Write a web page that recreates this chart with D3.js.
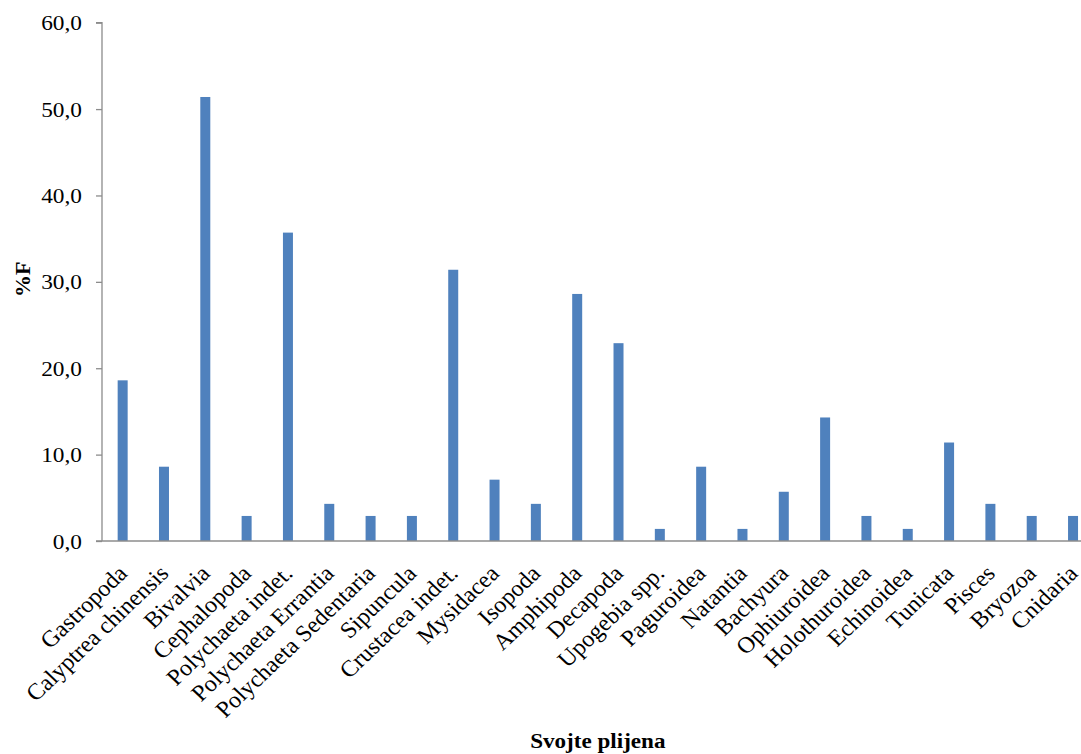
<!DOCTYPE html>
<html><head><meta charset="utf-8">
<script src="https://cdn.jsdelivr.net/npm/d3@7"></script>
<style>
html,body{margin:0;padding:0;background:#fff;}
svg{display:block;}
</style></head><body>
<svg id="chart" width="1081" height="754"></svg>
<script>
const categories = ["Gastropoda","Calyptrea chinensis","Bivalvia","Cephalopoda","Polychaeta indet.","Polychaeta Errantia","Polychaeta Sedentaria","Sipuncula","Crustacea indet.","Mysidacea","Isopoda","Amphipoda","Decapoda","Upogebia spp.","Paguroidea","Natantia","Bachyura","Ophiuroidea","Holothuroidea","Echinoidea","Tunicata","Pisces","Bryozoa","Cnidaria"];
const values = [18.6, 8.6, 51.4, 2.9, 35.7, 4.3, 2.9, 2.9, 31.4, 7.1, 4.3, 28.6, 22.9, 1.4, 8.6, 1.4, 5.7, 14.3, 2.9, 1.4, 11.4, 4.3, 2.9, 2.9];
const yTicks = [0, 10, 20, 30, 40, 50, 60];
const yTitle = "%F";
const xTitle = "Svojte plijena";

(function () {
const svg = d3.select("#chart");
const mLeft = 102, mRight = 1093.7, mTop = 22.7, mBottom = 541;
const font = "'Liberation Serif','Times New Roman',serif";
const axisColor = "#8c8c8c";
const sx = 1.06;

const x = d3.scaleBand().domain(categories).range([mLeft, mRight]).paddingInner(0).paddingOuter(0);
const y = d3.scaleLinear().domain([0, 60]).range([mBottom, mTop]);
const barW = 10;

// bars
svg.append("g").selectAll("rect").data(values).join("rect")
  .attr("x", (d, i) => x(categories[i]) + x.bandwidth() / 2 - barW / 2)
  .attr("y", d => y(d))
  .attr("width", barW)
  .attr("height", d => y(0) - y(d))
  .attr("fill", "#4F81BD");

// y axis
const yAxis = d3.axisLeft(y).tickValues(yTicks).tickSize(6).tickPadding(14)
  .tickFormat(d => d3.format(".1f")(d).replace(".", ","));
const gy = svg.append("g").attr("transform", `translate(${mLeft},0)`).call(yAxis);
gy.select(".domain").attr("stroke", axisColor).attr("stroke-width", 1.3).attr("d", `M-6,${mTop}H0V${mBottom}`);
gy.selectAll(".tick line").attr("stroke", axisColor).attr("stroke-width", 1.3);
gy.selectAll(".tick text").attr("font-family", font).attr("font-size", 22).attr("fill", "#000")
  .attr("x", -20 / sx).attr("transform", `scale(${sx},1)`);

// x axis
const xAxis = d3.axisBottom(x).tickSize(0).tickFormat("");
const gx = svg.append("g").attr("transform", `translate(0,${mBottom})`).call(xAxis);
gx.select(".domain").attr("stroke", axisColor).attr("stroke-width", 1.3).attr("d", `M${mLeft - 6},0H${mRight}`);

// category labels
svg.append("g").selectAll("text").data(categories).join("text")
  .attr("transform", d => `translate(${x(d) + x.bandwidth() / 2},${mBottom + 28}) scale(1.05,1) rotate(-45)`)
  .attr("text-anchor", "end")
  .attr("dy", "0.35em")
  .attr("font-family", font).attr("font-size", 23).attr("fill", "#000")
  .text(d => d);

// titles
svg.append("text")
  .attr("transform", `translate(30,${(mTop + mBottom) / 2 - 2.5}) rotate(-90)`)
  .attr("text-anchor", "middle")
  .attr("font-family", font).attr("font-size", 22).attr("font-weight", "bold")
  .text(yTitle);
svg.append("text")
  .attr("transform", `translate(${(mLeft + mRight) / 2},747.5) scale(1.05,1)`)
  .attr("text-anchor", "middle")
  .attr("font-family", font).attr("font-size", 22).attr("font-weight", "bold")
  .text(xTitle);
})();
</script>
</body></html>
